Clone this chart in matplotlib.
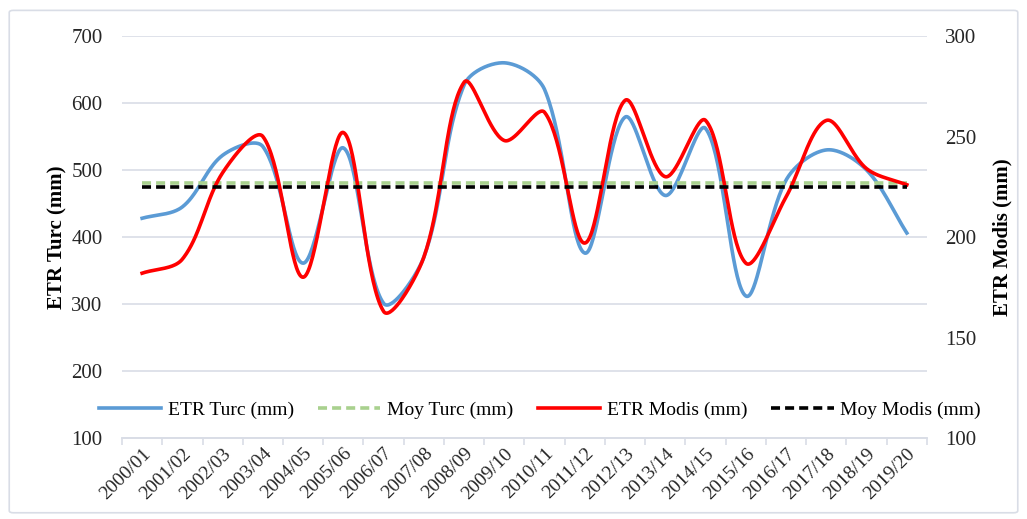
import numpy as np
import matplotlib
matplotlib.use('Agg')
from matplotlib import pyplot as plt
from matplotlib.patches import FancyBboxPatch

# data
years = ['2000/01', '2001/02', '2002/03', '2003/04', '2004/05', '2005/06', '2006/07',
         '2007/08', '2008/09', '2009/10', '2010/11', '2011/12', '2012/13', '2013/14',
         '2014/15', '2015/16', '2016/17', '2017/18', '2018/19', '2019/20']
etr_turc = [428, 445, 522, 535, 361, 533, 301, 370, 627, 660,
            620, 376, 579, 462, 562, 312, 485, 530, 500, 406]
etr_modis = [182, 189, 232, 250, 180, 252, 163, 190, 277, 248,
             262, 197, 268, 230, 258, 187, 220, 258, 234, 226]
moy_turc = 481
moy_modis = 225

plt.rcParams['font.family'] = ['Liberation Serif', 'DejaVu Serif']
GRID = '#d9dde6'
TXT = '#262626'


def smooth(a, x, y, n=40):
    # excel-like smoothed line, bezier built in pixel space
    p = a.transData.transform(np.column_stack([x, y]))
    m = len(p)
    out = [p[:1]]
    t = np.linspace(0, 1, n)[1:, None]

    def ctrl(i):
        prv = p[max(i - 1, 0)]
        nxt = p[min(i + 1, m - 1)]
        d = nxt - prv
        lp = np.hypot(*(p[i] - prv))
        ln = np.hypot(*(nxt - p[i]))
        s = lp + ln
        return p[i] - d * lp / s / 3, p[i] + d * ln / s / 3

    for i in range(m - 1):
        p0, p3 = p[i], p[i + 1]
        p1 = ctrl(i)[1]
        p2 = ctrl(i + 1)[0]
        b = (1 - t) ** 3 * p0 + 3 * (1 - t) ** 2 * t * p1 + 3 * (1 - t) * t ** 2 * p2 + t ** 3 * p3
        out.append(b)
    pts = a.transData.inverted().transform(np.vstack(out))
    return pts[:, 0], pts[:, 1]


fig = plt.figure(figsize=(10.27, 5.19), dpi=100)
fig.patches.append(FancyBboxPatch((0.009, 0.012), 0.982, 0.968, boxstyle='round,pad=0,rounding_size=0.004',
                                  transform=fig.transFigure, fill=False, edgecolor=GRID, lw=1.2))
ax = fig.add_axes([0.1188, 0.156, 0.7838, 0.7746])
ax2 = ax.twinx()

x = np.arange(len(years))
ax.set_xlim(-0.5, len(years) - 0.5)
ax.set_ylim(100, 700)
ax2.set_ylim(100, 300)

sx, sy = smooth(ax, x, etr_turc)
l1, = ax.plot(sx, sy, color='#5b9bd5', lw=2.6, label='ETR Turc (mm)')
l2, = ax.plot(x, [moy_turc] * len(x), color='#a9d18e', lw=2.6, ls=(0, (2.5, 1.4)), label='Moy Turc (mm)')
sx, sy = smooth(ax2, x, etr_modis)
l3, = ax2.plot(sx, sy, color='#ff0000', lw=2.6, label='ETR Modis (mm)')
l4, = ax2.plot(x, [moy_modis] * len(x), color='black', lw=2.6, ls=(0, (2.5, 1.4)), label='Moy Modis (mm)')

ax.set_yticks(range(100, 701, 100))
ax2.set_yticks(range(100, 301, 50))
ax.yaxis.grid(True, color=GRID, lw=1.2)
ax.set_axisbelow(True)

ax.set_xticks(x)
ax.set_xticklabels(years, rotation=45, ha='right', rotation_mode='anchor', fontsize=14, color=TXT)
ax.set_xticks(np.arange(-0.5, len(years)), minor=True)
ax.tick_params(axis='x', which='major', length=0, pad=5)
ax.tick_params(axis='x', which='minor', length=5, color=GRID, width=1.2)
ax.tick_params(axis='y', length=0, labelsize=15, labelcolor=TXT, pad=14)
ax2.tick_params(axis='y', length=0, labelsize=15, labelcolor=TXT, pad=13)

for a in (ax, ax2):
    for s in ['top', 'left', 'right']:
        a.spines[s].set_visible(False)
    a.spines['bottom'].set_color(GRID)
    a.spines['bottom'].set_linewidth(1.2)

ax.set_ylabel('ETR Turc (mm)', fontsize=15, fontweight='bold', labelpad=3)
ax2.set_ylabel('ETR Modis (mm)', fontsize=15, fontweight='bold', labelpad=12)

ax2.legend(handles=[l1, l2, l3, l4], loc='center', bbox_to_anchor=(0.519, 0.07), ncol=4,
           frameon=False, fontsize=14, handlelength=3.2, columnspacing=1.25, handletextpad=0.35)

fig.savefig('out.png', dpi=100)
